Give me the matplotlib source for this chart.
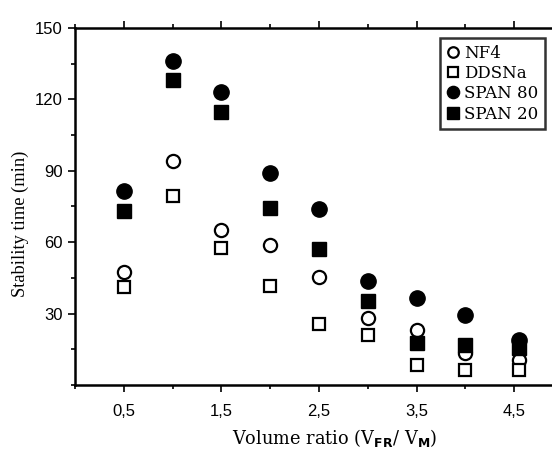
import matplotlib
matplotlib.use("Agg")
import matplotlib.pyplot as plt
from matplotlib.ticker import MultipleLocator

ratio = [0.5, 1.0, 1.5, 2.0, 2.5, 3.0, 3.5, 4.0, 4.55]
nf4 = [47.5, 94, 65, 59, 45.5, 28, 23, 13.5, 10.5]
ddsna = [41, 79.5, 57.5, 41.5, 25.5, 21, 8.5, 6.5, 6.5]
span80 = [81.5, 136, 123, 89, 74, 43.5, 36.5, 29.5, 19]
span20 = [73, 128, 114.5, 74.5, 57, 35.5, 17.5, 17, 15.5]

xtick_pos = [0.5, 1.5, 2.5, 3.5, 4.5]
xtick_lab = ["0,5", "1,5", "2,5", "3,5", "4,5"]
ytick_pos = [30, 60, 90, 120, 150]

W, H = 552, 451
fig = plt.figure(figsize=(W / 100, H / 100), dpi=100)
# the frame runs past the right edge of the figure
x0, x1, y0, y1 = 75, 563, 28, 385
ax = fig.add_axes([x0 / W, 1 - y1 / H, (x1 - x0) / W, (y1 - y0) / H])

ax.plot(ratio, nf4, "o", ms=9.5, mfc="white", mec="black", mew=1.6, label="NF4")
ax.plot(ratio, ddsna, "s", ms=9, mfc="white", mec="black", mew=1.6, label="DDSNa")
ax.plot(ratio, span80, "o", ms=11, mfc="black", mec="black", label="SPAN 80")
ax.plot(ratio, span20, "s", ms=10, mfc="black", mec="black", label="SPAN 20")

ax.set_xlim(0, 5)
ax.set_ylim(0, 150)
ax.set_xticks(xtick_pos)
ax.set_xticklabels(xtick_lab, family="Liberation Sans", fontsize=12)
ax.xaxis.set_minor_locator(MultipleLocator(0.5))
ax.set_yticks(ytick_pos)
ax.set_yticklabels([str(v) for v in ytick_pos], family="Liberation Sans", fontsize=12)
ax.yaxis.set_minor_locator(MultipleLocator(15))

ax.tick_params(which="both", direction="out", top=True, right=False, width=1.2)
ax.tick_params(which="major", length=5)
ax.tick_params(axis="x", which="major", pad=9)
ax.tick_params(axis="y", which="major", pad=4)
ax.tick_params(which="minor", length=3)
for side in ("left", "bottom", "top"):
    ax.spines[side].set_linewidth(1.8)
ax.spines["right"].set_visible(False)

ax.set_ylabel("Stability time (min)", family="Liberation Serif", fontsize=13.3)
ax.yaxis.set_label_coords((20 - x0) / (x1 - x0), (y1 - 224) / (y1 - y0))
ax.yaxis.label.set_va("center")
ax.set_xlabel(r"Volume ratio (V$_{\mathbf{FR}}$/ V$_{\mathbf{M}}$)",
              family="DejaVu Serif", fontsize=12.8)
ax.xaxis.set_label_coords((335 - x0) / (x1 - x0), (y1 - 438) / (y1 - y0))
ax.xaxis.label.set_va("center")

leg = ax.legend(loc="upper left",
                bbox_to_anchor=((440 - x0) / (x1 - x0), (y1 - 38) / (y1 - y0)),
                frameon=True, fancybox=False, edgecolor="black", markerscale=0.8,
                handlelength=0.7, handletextpad=0.35, borderpad=0.4,
                labelspacing=0.2, borderaxespad=0,
                prop={"family": "DejaVu Serif", "size": 12})
leg.get_frame().set_linewidth(1.8)

fig.savefig("out.png", dpi=100)
